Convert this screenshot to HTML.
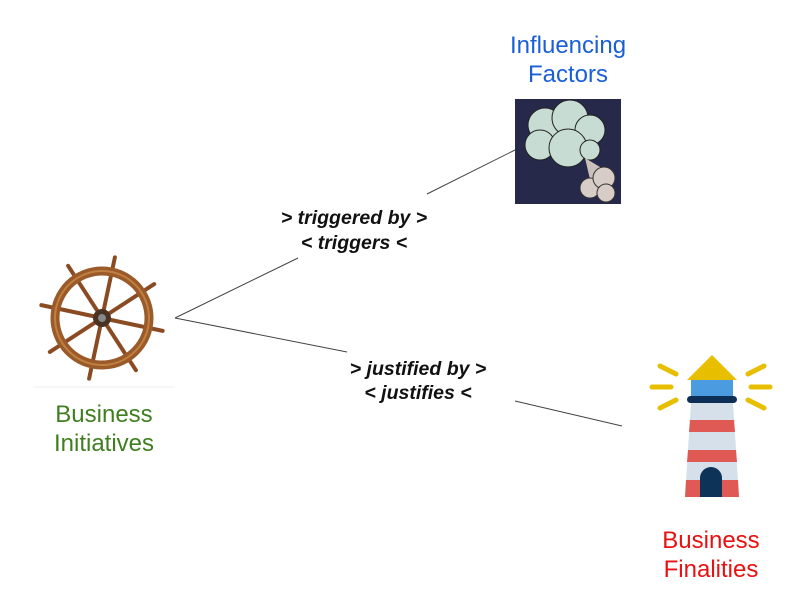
<!DOCTYPE html>
<html><head><meta charset="utf-8"><style>
html,body{margin:0;padding:0;background:#fff;width:800px;height:607px;overflow:hidden}
svg{display:block}
</style></head><body>
<svg width="800" height="607" viewBox="0 0 800 607" xmlns="http://www.w3.org/2000/svg">
<rect width="800" height="607" fill="#fff"/>
<g stroke="#444" stroke-width="1" fill="none">
<line x1="427" y1="194" x2="515" y2="150"/>
<line x1="175" y1="318" x2="298" y2="258"/>
<line x1="175" y1="318" x2="347" y2="352"/>
<line x1="515" y1="401" x2="622" y2="426"/>
</g>
<g font-family="Liberation Sans, sans-serif" font-weight="bold" font-style="italic" font-size="19.5" text-anchor="middle" fill="#111">
<text x="354" y="224">&gt; triggered by &gt;</text>
<text x="354" y="249">&lt; triggers &lt;</text>
<text x="418" y="375">&gt; justified by &gt;</text>
<text x="418" y="399">&lt; justifies &lt;</text>
</g>
<g font-family="Liberation Sans, sans-serif" font-size="24" text-anchor="middle">
<text x="568" y="53" fill="#1a5fd6">Influencing</text>
<text x="568" y="82" fill="#1a5fd6">Factors</text>
<text x="104" y="422" fill="#3f7f1f">Business</text>
<text x="104" y="451" fill="#3f7f1f">Initiatives</text>
<text x="711" y="548" fill="#e81010">Business</text>
<text x="711" y="577" fill="#e81010">Finalities</text>
</g>
<line x1="33" y1="387" x2="175" y2="387" stroke="#eee" stroke-width="1"/>
<g transform="translate(102,318) rotate(12)">
<g stroke="#8a4b22" stroke-width="4" stroke-linecap="round">
<line x1="0" y1="-62" x2="0" y2="62"/>
<line x1="-62" y1="0" x2="62" y2="0"/>
<line x1="-44" y1="-44" x2="44" y2="44"/>
<line x1="-44" y1="44" x2="44" y2="-44"/>
</g>
<circle r="47" fill="none" stroke="#9a5a2a" stroke-width="9"/>
<circle r="47" fill="none" stroke="#c08040" stroke-width="2"/>
<circle r="9" fill="#4a3322"/>
<circle r="4" fill="#888"/>
</g>
<rect x="515" y="99" width="106" height="105" fill="#26294a"/>
<g fill="#c7dcd3" stroke="#222" stroke-width="1">
<circle cx="545" cy="125" r="17"/><circle cx="570" cy="118" r="18"/><circle cx="590" cy="130" r="15"/>
<circle cx="540" cy="145" r="15"/><circle cx="568" cy="148" r="19"/><circle cx="590" cy="150" r="10"/>
</g>
<polygon points="585,158 605,170 592,188" fill="#ccc0bb"/>
<g fill="#d8ccc6" stroke="#333" stroke-width="1">
<circle cx="590" cy="188" r="10"/><circle cx="604" cy="178" r="11"/><circle cx="606" cy="193" r="9"/>
</g>
<g stroke="#e7bf00" stroke-width="5" stroke-linecap="round">
<line x1="660" y1="366" x2="676" y2="374"/>
<line x1="652" y1="387" x2="671" y2="387"/>
<line x1="660" y1="408" x2="676" y2="400"/>
<line x1="764" y1="366" x2="748" y2="374"/>
<line x1="770" y1="387" x2="751" y2="387"/>
<line x1="764" y1="408" x2="748" y2="400"/>
</g>
<polygon points="712,355 687,380 737,380" fill="#e7bf00"/>
<rect x="691" y="380" width="42" height="16" fill="#4a9be0"/>
<polygon points="691,403 733,403 739,497 685,497" fill="#d6e0ea"/>
<polygon points="690,420 734,420 735,432 689,432" fill="#e05a55"/>
<polygon points="688,450 736,450 737,462 687,462" fill="#e05a55"/>
<polygon points="686,480 738,480 739,497 685,497" fill="#e05a55"/>
<rect x="687" y="396" width="50" height="7" rx="3.5" fill="#0e2f55"/>
<path d="M700,497 V478 a11,11 0 0 1 22,0 V497 Z" fill="#0e3358"/>
</svg>
</body></html>
